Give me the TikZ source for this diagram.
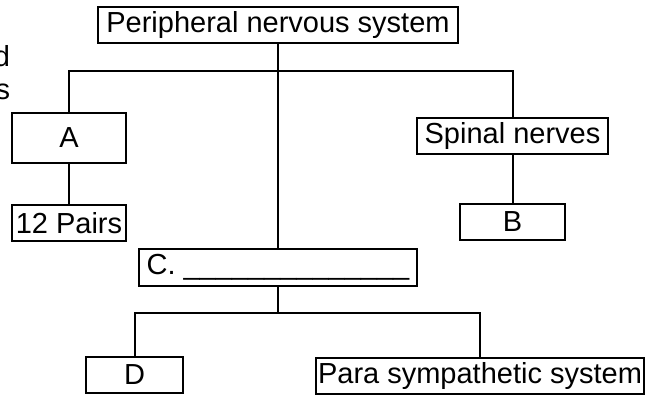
\documentclass[tikz,border=0pt]{standalone}
\usepackage{fontspec}
\setmainfont{Liberation Sans}
\usetikzlibrary{positioning}

\begin{document}
\begin{tikzpicture}[
    x=1pt, y=-1pt,
    line width=2pt,
    every node/.style={
        inner sep=1pt,
        font=\fontsize{29}{34}\selectfont
        },
    box/.style={
        draw=black,
        minimum height=36pt
        }
    ]
    \useasboundingbox (0,0) rectangle (658,395);

    % leftover word endings at the cut edge
    \node[anchor=base east, inner sep=0pt] (endd) at (11,67) {d};
    \node[anchor=base east, inner sep=0pt] (ends) at (11,100) {s};

    \begin{scope}[on grid]
    \node[box, minimum width=360pt] (pns) at (278,25.5) {Peripheral nervous system};
    \node[box, minimum width=114pt, minimum height=50pt] (cranial) [below left = 112.5pt and 209pt of pns] {A};
    \node[box, minimum width=114pt] (pairs) [below = 85.5pt of cranial] {12 Pairs};
    \node[box, minimum width=191pt] (spinal) [below right = 110.5pt and 234.5pt of pns] {Spinal nerves};
    \node[box, minimum width=105pt] (b) [below = 86pt of spinal] {B};
    \node[box, minimum width=278pt] (autonomic) [below = 242pt of pns] {C. \_\_\_\_\_\_\_\_\_\_\_\_\_\_};
    \node[box, minimum width=97pt] (d) [below left = 107pt and 143.5pt of autonomic] {D};
    \node[box, minimum width=328pt] (para) [below right = 108.5pt and 202pt of autonomic] {Para sympathetic system};
    \end{scope}

    \coordinate (top bus) at (278,71);
    \coordinate (low bus) at (278,313);

    \draw (pns.south) -- (autonomic.north);
    \draw (cranial.north) |- (top bus) -| (spinal.north);
    \draw (cranial) -- (pairs);
    \draw (spinal) -- (b);
    \draw (autonomic.south) -- (low bus);
    \draw (d.north) |- (low bus) -| (para.north);
\end{tikzpicture}
\end{document}
